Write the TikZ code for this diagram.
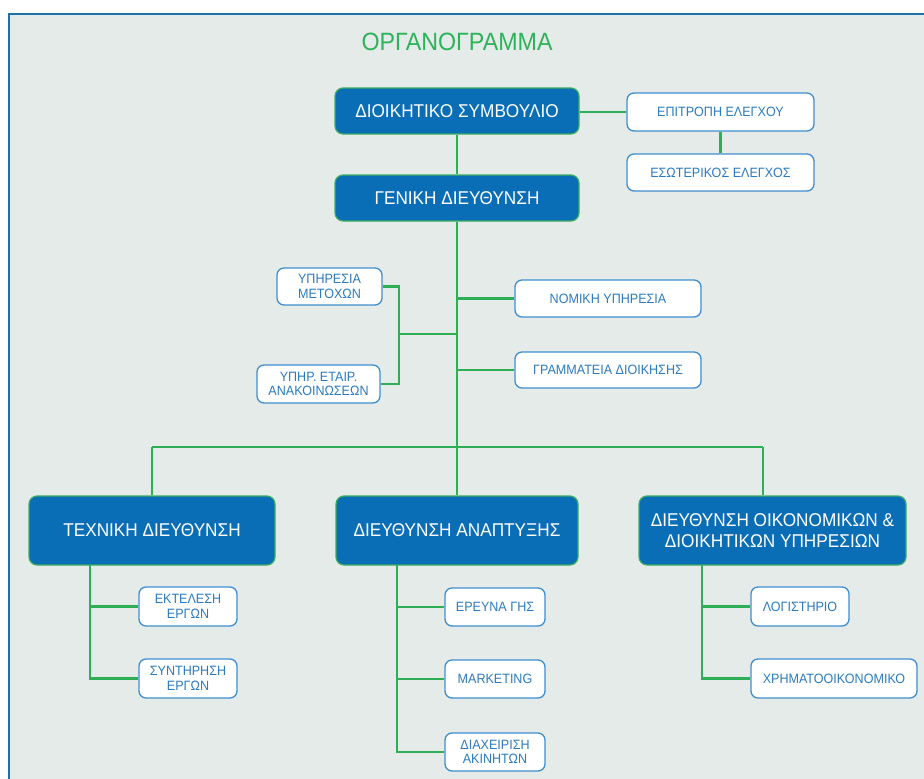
\documentclass[tikz,border=0pt]{standalone}
\usepackage{fontspec}
\setmainfont{Liberation Sans}[FakeStretch=0.93]
\usetikzlibrary{backgrounds}
\definecolor{panelbg}{HTML}{E5EBE8}
\definecolor{panelrule}{HTML}{1F6FAA}
\definecolor{darkbox}{HTML}{0A6EB6}
\definecolor{darkrim}{HTML}{3DAE62}
\definecolor{lightrim}{HTML}{3F8ECE}
\definecolor{lighttext}{HTML}{2C7BBF}
\definecolor{linkgreen}{HTML}{2EAF55}
\definecolor{titlegreen}{HTML}{2DB35A}
\tikzset{
  headbox/.style={draw=darkrim, line width=1.2pt, fill=darkbox, rounded corners=8pt,
    inner sep=0pt, align=center, text=white,
    font=\fontsize{18.5}{21}\selectfont},
  unitbox/.style={draw=lightrim, line width=1.3pt, fill=white, rounded corners=7pt,
    inner sep=0pt, align=center, text=lighttext,
    font=\fontsize{13.5}{14.5}\selectfont},
  link/.style={draw=linkgreen, line width=2.4pt}
}
\begin{document}
\begin{tikzpicture}[x=1pt,y=-1pt]
\useasboundingbox (0,0) rectangle (924,779);
% page and panel
\begin{pgfonlayer}{background}
\fill[white] (0,0) rectangle (924,779);
\fill[panelbg] (9,14) rectangle (924,779);
\draw[panelrule, line width=2pt] (9,779) -- (9,14) -- (924,14);
\end{pgfonlayer}

% title
\node[text=titlegreen, font=\fontsize{25}{28}\selectfont, inner sep=0pt] (title) at (457,42) {ΟΡΓΑΝΟΓΡΑΜΜΑ};

% top management
\node[headbox, minimum width=244pt, minimum height=46pt] (board) at (457,111) {ΔΙΟΙΚΗΤΙΚΟ ΣΥΜΒΟΥΛΙΟ};
\node[headbox, minimum width=244pt, minimum height=46pt] (gm) at (457,198) {ΓΕΝΙΚΗ ΔΙΕΥΘΥΝΣΗ};
\node[unitbox, minimum width=187pt, minimum height=38pt] (audit) at (720.5,112) {ΕΠΙΤΡΟΠΗ ΕΛΕΓΧΟΥ};
\node[unitbox, minimum width=187pt, minimum height=37pt] (internal) at (720.5,172.5) {ΕΣΩΤΕΡΙΚΟΣ ΕΛΕΓΧΟΣ};

% staff services
\node[unitbox, minimum width=105pt, minimum height=37pt] (shares) at (329.5,286.5) {ΥΠΗΡΕΣΙΑ\\ΜΕΤΟΧΩΝ};
\node[unitbox, minimum width=123pt, minimum height=38pt] (announce) at (318.5,384) {ΥΠΗΡ. ΕΤΑΙΡ.\\ΑΝΑΚΟΙΝΩΣΕΩΝ};
\node[unitbox, minimum width=186pt, minimum height=37pt] (legal) at (608,298.5) {ΝΟΜΙΚΗ ΥΠΗΡΕΣΙΑ};
\node[unitbox, minimum width=186pt, minimum height=36pt] (secretariat) at (608,370) {ΓΡΑΜΜΑΤΕΙΑ ΔΙΟΙΚΗΣΗΣ};

% divisions
\node[headbox, minimum width=246pt, minimum height=69pt] (tech) at (152,530.5) {ΤΕΧΝΙΚΗ ΔΙΕΥΘΥΝΣΗ};
\node[headbox, minimum width=242pt, minimum height=69pt] (dev) at (457,530.5) {ΔΙΕΥΘΥΝΣΗ ΑΝΑΠΤΥΞΗΣ};
\node[headbox, minimum width=267pt, minimum height=69pt] (fin) at (772.5,530.5) {ΔΙΕΥΘΥΝΣΗ ΟΙΚΟΝΟΜΙΚΩΝ \&\\ΔΙΟΙΚΗΤΙΚΩΝ ΥΠΗΡΕΣΙΩΝ};

% units under divisions
\node[unitbox, minimum width=98pt, minimum height=39pt] (exec) at (188,606.5) {ΕΚΤΕΛΕΣΗ\\ΕΡΓΩΝ};
\node[unitbox, minimum width=98pt, minimum height=39pt] (maint) at (188,678.5) {ΣΥΝΤΗΡΗΣΗ\\ΕΡΓΩΝ};
\node[unitbox, minimum width=100pt, minimum height=38pt] (survey) at (495,607) {ΕΡΕΥΝΑ ΓΗΣ};
\node[unitbox, minimum width=100pt, minimum height=38pt] (mkt) at (495,679) {MARKETING};
\node[unitbox, minimum width=100pt, minimum height=38pt] (estate) at (495,752) {ΔΙΑΧΕΙΡΙΣΗ\\ΑΚΙΝΗΤΩΝ};
\node[unitbox, minimum width=98pt, minimum height=39pt] (acct) at (800,606.5) {ΛΟΓΙΣΤΗΡΙΟ};
\node[unitbox, minimum width=166pt, minimum height=39pt] (treasury) at (834,678.5) {ΧΡΗΜΑΤΟΟΙΚΟΝΟΜΙΚΟ};

% junction points
\coordinate (busL) at (152,447);
\coordinate (busR) at (763,447);
\coordinate (staffJ) at (399,334);
\coordinate (techSpine) at (90,565);
\coordinate (devSpine) at (397,565);
\coordinate (finSpine) at (702,565);

% connectors, kept behind the boxes
\begin{pgfonlayer}{background}
% board level
\draw[link] (board.east |- audit.west) -- (audit.west);
\draw[link] (audit.south) -- (internal.north);
\draw[link] (board.south) -- (gm.north);
% main spine
\draw[link] (gm.south) -- (dev.north);
% staff services
\draw[link] (gm.south |- legal.west) -- (legal.west);
\draw[link] (gm.south |- secretariat.west) -- (secretariat.west);
\draw[link] (shares.east) -| (staffJ) |- (announce.east);
\draw[link] (staffJ) -- (gm.south |- staffJ);
% division bus
\draw[link] (busL) -- (busR);
\draw[link] (busL) -- (tech.north);
\draw[link] (busR) -- (busR |- fin.north);
% technical division
\draw[link] (techSpine) |- (maint.west);
\draw[link] (techSpine |- exec.west) -- (exec.west);
% development division
\draw[link] (devSpine) |- (estate.west);
\draw[link] (devSpine |- survey.west) -- (survey.west);
\draw[link] (devSpine |- mkt.west) -- (mkt.west);
% finance division
\draw[link] (finSpine) |- (treasury.west);
\draw[link] (finSpine |- acct.west) -- (acct.west);
\end{pgfonlayer}
\end{tikzpicture}
\end{document}
